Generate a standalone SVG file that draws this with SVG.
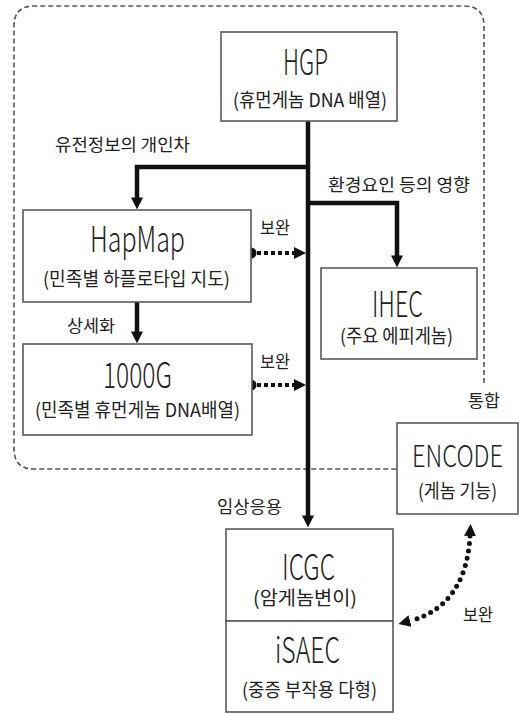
<svg xmlns="http://www.w3.org/2000/svg" width="519" height="714" viewBox="0 0 519 714">
<style>
.box{fill:#fff;stroke:#5a5a5a;stroke-width:1.6}
.t{font-family:"Noto Sans CJK KR","Liberation Sans",sans-serif;fill:#222;text-anchor:middle}
.big{font-size:35px;font-weight:300}
.sub{font-size:19px}
.lbl{font-size:17px}
.thick{fill:none;stroke:#111;stroke-width:4.5}
.dot{fill:none;stroke:#111;stroke-width:4;stroke-dasharray:4 3}
.rdot{fill:none;stroke:#111;stroke-width:5;stroke-linecap:round;stroke-dasharray:0 7.5}
</style>
<defs>
<marker id="arr" viewBox="0 0 10 10" refX="3" refY="5" markerWidth="12" markerHeight="12" markerUnits="userSpaceOnUse" orient="auto"><path d="M0,0 L10,5 L0,10 z" fill="#111"/></marker>
<marker id="tri" viewBox="0 0 10 10" refX="0" refY="5" markerWidth="12" markerHeight="13" markerUnits="userSpaceOnUse" orient="auto-start-reverse"><path d="M0,0 L10,5 L0,10 z" fill="#111"/></marker>
</defs>
<path d="M484 383 L484 26 Q484 6 464 6 L34 6 Q14 6 14 26 L14 449 Q14 469 34 469 L397 469" fill="none" stroke="#555" stroke-width="1.6" stroke-dasharray="5 3"/>
<g id="connectors">
<path class="thick" d="M308 121 L308 519" marker-end="url(#arr)"/>
<path class="thick" d="M308 167 L137 167 L137 201" marker-end="url(#arr)"/>
<path class="thick" d="M308 203 L397 203 L397 259" marker-end="url(#arr)"/>
<path class="thick" d="M137 302 L137 335" marker-end="url(#arr)"/>
<circle cx="251" cy="253" r="5.5" fill="#111"/>
<path class="dot" d="M257 253 L294 253" marker-end="url(#tri)"/>
<circle cx="251" cy="385" r="5.5" fill="#111"/>
<path class="dot" d="M257 385 L294 385" marker-end="url(#tri)"/>
<path class="rdot" d="M470 536 C468 575 452 610 410 621" marker-start="url(#tri)" marker-end="url(#tri)"/>
<text class="t lbl" x="122.5" y="151" textLength="135" lengthAdjust="spacingAndGlyphs">유전정보의 개인차</text>
<text class="t lbl" x="399" y="191" textLength="142" lengthAdjust="spacingAndGlyphs">환경요인 등의 영향</text>
<text class="t lbl" x="91" y="332" textLength="48" lengthAdjust="spacingAndGlyphs">상세화</text>
<text class="t lbl" x="275" y="234" textLength="30" lengthAdjust="spacingAndGlyphs">보완</text>
<text class="t lbl" x="275" y="368" textLength="30" lengthAdjust="spacingAndGlyphs">보완</text>
<text class="t lbl" x="478" y="621" textLength="30" lengthAdjust="spacingAndGlyphs">보완</text>
<text class="t lbl" x="484" y="407" textLength="32" lengthAdjust="spacingAndGlyphs">통합</text>
<text class="t lbl" x="249.5" y="513" textLength="65" lengthAdjust="spacingAndGlyphs">임상응용</text>
</g>
<g id="hgp">
<rect class="box" x="221" y="32" width="176" height="89"/>
<text class="t big" x="305.5" y="75" textLength="45" lengthAdjust="spacingAndGlyphs">HGP</text>
<text class="t sub" x="310" y="107" textLength="154" lengthAdjust="spacingAndGlyphs">(휴먼게놈 DNA 배열)</text>
</g>
<g id="hapmap">
<rect class="box" x="23" y="210" width="228" height="92"/>
<text class="t big" x="137.5" y="252" textLength="95" lengthAdjust="spacingAndGlyphs">HapMap</text>
<text class="t sub" x="136.5" y="286" textLength="187" lengthAdjust="spacingAndGlyphs">(민족별 하플로타입 지도)</text>
</g>
<g id="g1000">
<rect class="box" x="23" y="344" width="229" height="91"/>
<text class="t big" x="137.5" y="388" textLength="69" lengthAdjust="spacingAndGlyphs">1000G</text>
<text class="t sub" x="137.5" y="417" textLength="205" lengthAdjust="spacingAndGlyphs">(민족별 휴먼게놈 DNA배열)</text>
</g>
<g id="ihec">
<rect class="box" x="321" y="268" width="156" height="91"/>
<text class="t big" x="397.5" y="317" textLength="51" lengthAdjust="spacingAndGlyphs">IHEC</text>
<text class="t sub" x="396.5" y="343" textLength="113" lengthAdjust="spacingAndGlyphs">(주요 에피게놈)</text>
</g>
<g id="encode">
<rect class="box" x="397" y="423" width="121" height="91"/>
<text class="t" font-size="30" font-weight="300" x="457.5" y="467" textLength="91" lengthAdjust="spacingAndGlyphs">ENCODE</text>
<text class="t sub" x="457.5" y="498" textLength="79" lengthAdjust="spacingAndGlyphs">(게놈 기능)</text>
</g>
<g id="icgc">
<rect class="box" x="226" y="529" width="167" height="92"/>
<text class="t big" x="308.5" y="580" textLength="53" lengthAdjust="spacingAndGlyphs">ICGC</text>
<text class="t sub" x="305" y="605" textLength="104" lengthAdjust="spacingAndGlyphs">(암게놈변이)</text>
</g>
<g id="isaec">
<rect class="box" x="226" y="621" width="167" height="91"/>
<text class="t big" x="307.5" y="663" textLength="65" lengthAdjust="spacingAndGlyphs">iSAEC</text>
<text class="t sub" x="309.5" y="697" textLength="135" lengthAdjust="spacingAndGlyphs">(중증 부작용 다형)</text>
</g>
</svg>
